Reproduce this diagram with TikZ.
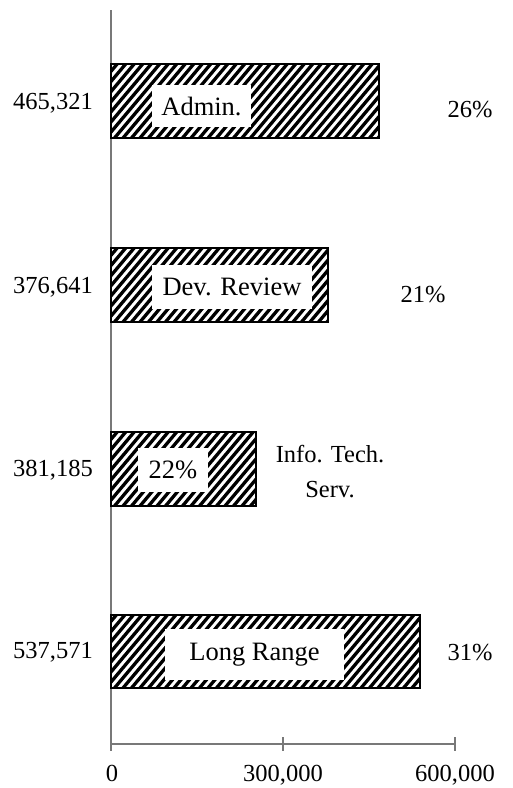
\documentclass[tikz,border=0pt]{standalone}
\usepackage{fontspec}
\setmainfont{Liberation Serif}
\definecolor{axisgray}{RGB}{120,120,120}
\tikzset{
  axisline/.style={draw=axisgray, line width=1.3pt},
  barframe/.style={draw=black, line width=2pt},
  hatchline/.style={line width=3.3pt, black},
  boxlabel/.style={fill=white, inner sep=0pt, font=\fontsize{26.5}{30}\selectfont},
  numlabel/.style={font=\fontsize{24.5}{28}\selectfont, inner sep=0pt},
}
\newcommand\hatchbar[4]{%
  \begin{scope}
    \clip (#1,#2) rectangle (#3,#4);
    \foreach \k in {-90,-81.5,...,330} \draw[hatchline] (#1+\k,#4) -- ++(84,-100);
  \end{scope}
  \draw[barframe] (#1,#2) rectangle (#3,#4);
}
\begin{document}
\begin{tikzpicture}[x=1pt,y=-1pt]
\useasboundingbox (0,0) rectangle (512,788);
% axes
\coordinate (top) at (111,10);
\coordinate (o) at (111,744);
\coordinate (xe) at (455,744);
\draw[axisline] (top) -- (111,751);
\draw[axisline] (o) -- (xe);
\draw[axisline] (283,737) -- (283,751);
\draw[axisline] (455,737) -- (455,751);
% bars
\hatchbar{111}{64}{379}{138}
\hatchbar{111}{248}{328}{322}
\hatchbar{111}{432}{256}{506}
\hatchbar{111}{615}{420}{688}
% in-bar labels
\node[boxlabel, minimum width=99pt, minimum height=42pt] (admin) at (201.5,106) {Admin.};
\node[boxlabel, minimum width=160pt, minimum height=44pt] (dev) at (232,287) {Dev. Review};
\node[boxlabel, minimum width=70pt, minimum height=44pt] (its) at (173,470) {22\%};
\node[boxlabel, minimum width=179pt, minimum height=51pt] (lr) at (254.5,654.5) {Long Range};
% values
\node[numlabel] (v1) at (53,103) {465,321};
\node[numlabel] (v2) at (53,287) {376,641};
\node[numlabel] (v3) at (53,470) {381,185};
\node[numlabel] (v4) at (53,652) {537,571};
% percentages
\node[numlabel] (p1) at (470,110) {26\%};
\node[numlabel] (p2) at (423,295) {21\%};
\node[numlabel, align=center, font=\fontsize{24.5}{35}\selectfont] (itlab) at (330,472) {Info. Tech.\\Serv.};
\node[numlabel] (p4) at (470,653) {31\%};
% x tick labels
\node[numlabel, anchor=base] (t0) at (112,781) {0};
\node[numlabel, anchor=base] (t1) at (283,781) {300,000};
\node[numlabel, anchor=base] (t2) at (455,781) {600,000};
\end{tikzpicture}
\end{document}
